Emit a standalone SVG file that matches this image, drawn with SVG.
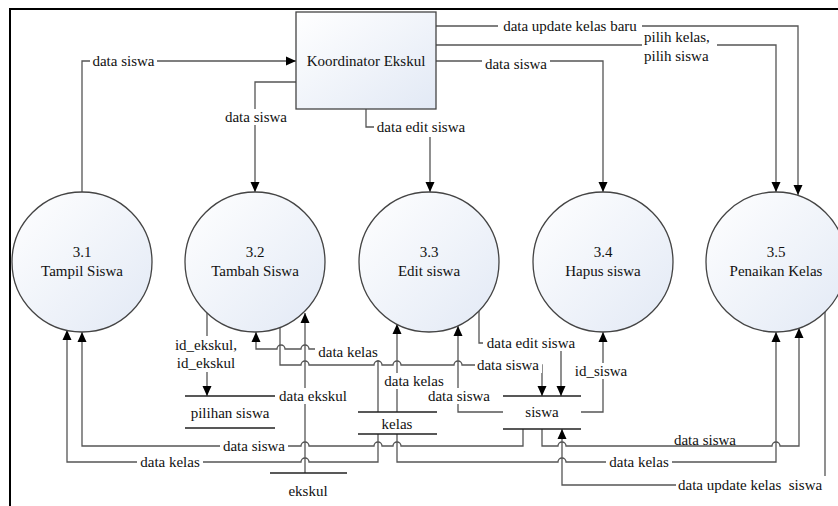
<svg xmlns="http://www.w3.org/2000/svg" width="838" height="506" viewBox="0 0 838 506">
<defs>
<linearGradient id="gfill" x1="0" y1="0" x2="1" y2="1">
<stop offset="0" stop-color="#ffffff"/>
<stop offset="1" stop-color="#e2e9f5"/>
</linearGradient>
<marker id="arr" markerUnits="userSpaceOnUse" markerWidth="10" markerHeight="10" refX="10" refY="5" orient="auto" viewBox="0 0 10 10">
<path d="M0,0.5 L10,5 L0,9.5 Z" fill="#000"/>
</marker>
<style>
.t{font-family:"Liberation Serif","Times New Roman",serif;font-size:15px;fill:#111;}
.c{text-anchor:middle;}
.ln{fill:none;stroke:#555;stroke-width:1.3;}
.ar{marker-end:url(#arr);}
.node{fill:url(#gfill);stroke:#444;stroke-width:1.3;}
.st{stroke:#222;stroke-width:1.3;fill:none;}
.bg{fill:#fff;}
</style>
</defs>
<rect x="0" y="0" width="838" height="506" fill="#fff"/>
<path d="M10,506 V9 H838" fill="none" stroke="#000" stroke-width="2"/>

<g id="connectors">
<path class="ln ar" d="M82,192 V61 H296"/>
<path class="ln ar" d="M296,82 H255 V192"/>
<path class="ln ar" d="M366,109 V127 H430 V192"/>
<path class="ln ar" d="M436,26 H798 V195"/>
<path class="ln ar" d="M436,45 H776 V192"/>
<path class="ln ar" d="M436,61 H603 V192"/>

<path class="ln ar" d="M207,313 V396"/>
<path class="ln ar" d="M305,473 V313"/>
<path class="ln ar" d="M378,412 V349 H309 a4,4 0 0 0 -8,0 H285 a4,4 0 0 0 -8,0 H256 V332"/>
<path class="ln ar" d="M280,327 V365 H301 a4,4 0 0 1 8,0 H374 a4,4 0 0 1 8,0 H393 a4,4 0 0 1 8,0 H454 a4,4 0 0 1 8,0 H542 V396"/>
<path class="ln ar" d="M397,412 V324"/>
<path class="ln ar" d="M503,412 H458 V326"/>
<path class="ln ar" d="M479,310 V343 H561 V396"/>
<path class="ln ar" d="M581,412 H603 V332"/>
<path class="ln ar" d="M523,429 V446 H401 a4,4 0 0 0 -8,0 H382 a4,4 0 0 0 -8,0 H309 a4,4 0 0 0 -8,0 H82 V332"/>
<path class="ln ar" d="M378,434 V462 H309 a4,4 0 0 0 -8,0 H67 V330"/>
<path class="ln ar" d="M397,434 V462 H558 a4,4 0 0 1 8,0 H776 V332"/>
<path class="ln ar" d="M542,429 V446 H558 a4,4 0 0 1 8,0 H772 a4,4 0 0 1 8,0 H799 V328"/>
<path class="ln ar" d="M825,312 V485 H562 V429"/>
</g>

<g id="labels">
<rect class="bg" x="90" y="53" width="67" height="16"/>
<text class="t c" x="123.5" y="66">data siswa</text>
<rect class="bg" x="222" y="109" width="68" height="16"/>
<text class="t c" x="256" y="122">data siswa</text>
<rect class="bg" x="374" y="119" width="94" height="18"/>
<text class="t c" x="421" y="132">data edit siswa</text>
<rect class="bg" x="498" y="18" width="144" height="16"/>
<text class="t c" x="570" y="31">data update kelas baru</text>
<rect class="bg" x="642" y="28" width="75" height="36"/>
<text class="t" x="644" y="42">pilih kelas,</text>
<text class="t" x="644" y="61">pilih siswa</text>
<rect class="bg" x="482" y="54" width="68" height="16"/>
<text class="t c" x="516" y="69">data siswa</text>

<rect class="bg" x="173" y="336" width="67" height="36"/>
<text class="t c" x="206" y="350">id_ekskul,</text>
<text class="t c" x="206" y="368">id_ekskul</text>
<rect class="bg" x="276" y="388" width="74" height="16"/>
<text class="t c" x="313" y="401">data ekskul</text>
<rect class="bg" x="315" y="344" width="66" height="16"/>
<text class="t c" x="348" y="357">data kelas</text>
<rect class="bg" x="381" y="373" width="67" height="16"/>
<text class="t c" x="414" y="386">data kelas</text>
<rect class="bg" x="425" y="388" width="68" height="16"/>
<text class="t c" x="459" y="401">data siswa</text>
<rect class="bg" x="483" y="335" width="96" height="16"/>
<text class="t c" x="531" y="348">data edit siswa</text>
<rect class="bg" x="475" y="357" width="67" height="16"/>
<text class="t c" x="508" y="370">data siswa</text>
<rect class="bg" x="571" y="363" width="60" height="16"/>
<text class="t c" x="601" y="376">id_siswa</text>
<rect class="bg" x="220" y="438" width="68" height="16"/>
<text class="t c" x="254" y="451">data siswa</text>
<rect class="bg" x="137" y="454" width="66" height="16"/>
<text class="t c" x="170" y="467">data kelas</text>
<rect class="bg" x="671" y="432" width="68" height="12"/>
<text class="t c" x="705" y="445">data siswa</text>
<rect class="bg" x="606" y="454" width="66" height="16"/>
<text class="t c" x="639" y="467">data kelas</text>
<rect class="bg" x="676" y="476" width="162" height="18"/>
<text class="t" x="678" y="490" xml:space="preserve">data update kelas  siswa</text>
</g>

<g id="koordinator-ekskul">
<rect class="node" x="296" y="12" width="140" height="97"/>
<text class="t c" x="366" y="66">Koordinator Ekskul</text>
</g>
<g id="p3-1">
<circle class="node" cx="82" cy="262" r="70"/>
<text class="t c" x="82" y="257">3.1</text>
<text class="t c" x="82" y="276">Tampil Siswa</text>
</g>
<g id="p3-2">
<circle class="node" cx="255" cy="262" r="70"/>
<text class="t c" x="255" y="257">3.2</text>
<text class="t c" x="255" y="276">Tambah Siswa</text>
</g>
<g id="p3-3">
<circle class="node" cx="429" cy="262" r="70"/>
<text class="t c" x="429" y="257">3.3</text>
<text class="t c" x="429" y="276">Edit siswa</text>
</g>
<g id="p3-4">
<circle class="node" cx="603" cy="262" r="70"/>
<text class="t c" x="603" y="257">3.4</text>
<text class="t c" x="603" y="276">Hapus siswa</text>
</g>
<g id="p3-5">
<circle class="node" cx="776" cy="262" r="70"/>
<text class="t c" x="776" y="257">3.5</text>
<text class="t c" x="776" y="276">Penaikan Kelas</text>
</g>

<g id="store-pilihan-siswa">
<path class="st" d="M185,396 H275 M185,428 H275"/>
<text class="t c" x="230" y="418">pilihan siswa</text>
</g>
<g id="store-kelas">
<path class="st" d="M358,412 H437 M358,434 H437"/>
<text class="t c" x="397" y="429">kelas</text>
</g>
<g id="store-siswa">
<path class="st" d="M503,396 H581 M503,429 H581"/>
<text class="t c" x="542" y="417">siswa</text>
</g>
<g id="store-ekskul">
<path class="st" d="M270,473 H347"/>
<text class="t c" x="308" y="496">ekskul</text>
</g>
</svg>
